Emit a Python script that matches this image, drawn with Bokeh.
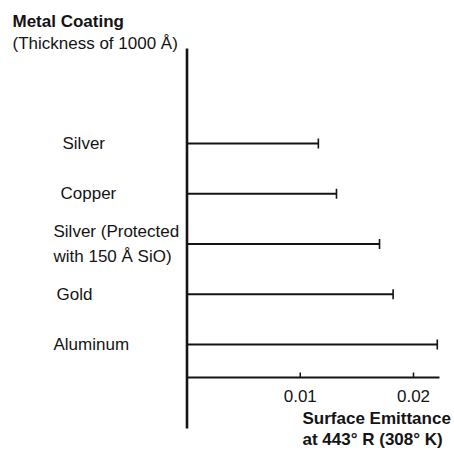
import math

from bokeh.core.properties import value
from bokeh.embed import file_html
from bokeh.models import ColumnDataSource, Range1d
from bokeh.plotting import figure
from bokeh.resources import INLINE

# Surface emittance of 1000 Å metal coatings at 443° R (308° K)
coatings = ["Silver", "Copper", "Silver (Protected\nwith 150 Å SiO)", "Gold", "Aluminum"]
emittance = [0.0116, 0.0132, 0.0170, 0.0182, 0.0221]
row = [5, 4, 3, 2, 1]

tick_values = [0.01, 0.02]
tick_labels = ["0.01", "0.02"]

title_lines = ["Metal Coating", "(Thickness of 1000 Å)"]
axis_title_lines = ["Surface Emittance", "at 443° R (308° K)"]

# ---- layout (pixel geometry of the drawing) ----
W, H = 454, 450
X0_PX = 186.5          # pixel column of emittance = 0
PX_PER_UNIT_X = 11325  # pixels per unit of emittance
ROW1_PX = 344          # pixel row of the lowest coating
PX_PER_ROW = 50.25


def xd(px):
    return (px - X0_PX) / PX_PER_UNIT_X


def yd(py):
    return 1 + (ROW1_PX - py) / PX_PER_ROW


FONT = value("Liberation Sans")
SIZE = "17px"
INK = "#141414"

p = figure(
    width=W, height=H,
    x_range=Range1d(xd(0), xd(W)),
    y_range=Range1d(yd(H), yd(0)),
    x_axis_type=None, y_axis_type=None,
    toolbar_location=None, output_backend="svg",
    min_border=0, min_border_left=0, min_border_right=0,
    min_border_top=0, min_border_bottom=0,
)
p.outline_line_color = None
p.xgrid.visible = False
p.ygrid.visible = False
p.background_fill_color = "white"
p.border_fill_color = "white"

# axes drawn as heavy rules
axis_y = yd(377)
p.segment(x0=[0], y0=[yd(48)], x1=[0], y1=[yd(428)], line_color=INK, line_width=2.6)
p.segment(x0=[0], y0=[axis_y], x1=[xd(439)], y1=[axis_y], line_color=INK, line_width=2.2)

# inward ticks and their labels
p.segment(x0=tick_values, y0=[axis_y] * len(tick_values),
          x1=tick_values, y1=[axis_y + 5 / PX_PER_ROW] * len(tick_values),
          line_color=INK, line_width=1.5)
p.text(x=tick_values, y=[yd(395)] * len(tick_values), text=tick_labels,
       text_font=FONT, text_font_size=SIZE, text_color=INK,
       text_align="center", text_baseline="middle")

# bars: a line from zero to the value, closed by an end cap
src = ColumnDataSource(dict(label=coatings, e=emittance, row=row,
                            zero=[0] * len(row)))
p.segment(x0="zero", y0="row", x1="e", y1="row", source=src,
          line_color=INK, line_width=2)
p.scatter(x="e", y="row", source=src, marker="dash", angle=math.pi / 2,
          size=10, line_color=INK, line_width=1.6)

# coating names
label_left_px = [62, 60, 53, 56, 53]
p.text(x=[xd(v) for v in label_left_px], y=row, text=coatings,
       text_font=FONT, text_font_size=SIZE, text_color=INK,
       text_align="left", text_baseline="middle", text_line_height=1.3)

# headings
p.text(x=[xd(12)], y=[yd(21)], text=[title_lines[0]], text_font=FONT,
       text_font_size=SIZE, text_font_style="bold", text_color=INK,
       text_align="left", text_baseline="middle")
p.text(x=[xd(12)], y=[yd(43)], text=[title_lines[1]], text_font=FONT,
       text_font_size=SIZE, text_color=INK,
       text_align="left", text_baseline="middle")
p.text(x=[xd(302)] * 2, y=[yd(418), yd(439)], text=axis_title_lines,
       text_font=FONT, text_font_size=SIZE, text_font_style="bold",
       text_color=INK, text_align="left", text_baseline="middle")

open("out.html", "w").write(file_html(p, INLINE))
